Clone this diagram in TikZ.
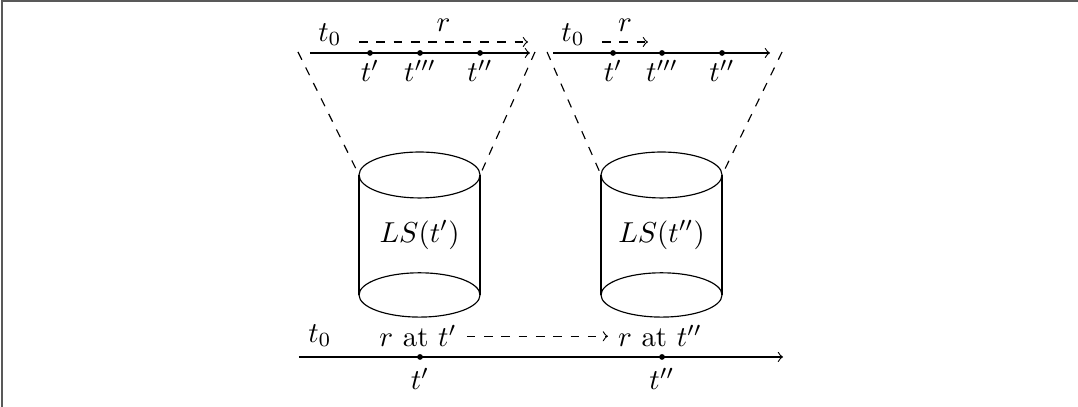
\documentclass[tikz,border=0pt]{standalone}
\usetikzlibrary{positioning}
\begin{document}
\begin{tikzpicture}[
    tick/.style={circle, fill, inner sep=0pt, minimum size=2pt},
    funnel/.style={dashed},
    frame/.style={gray!70!black, line width=0.7pt},
    lbl/.style={anchor=base}
]
\useasboundingbox (0,0) rectangle (13.146,4.963);

% Frame
\coordinate (f1) at (0.024,0);
\coordinate (f2) at (0.024,4.951);
\coordinate (f3) at (13.146,4.951);
\draw[frame] (f1) -- (f2) -- (f3);

% Top left timeline
\coordinate (a0) at (3.780,4.317);
\coordinate (a1) at (6.463,4.317);
\draw[->] (a0) -- (a1);
\node[tick] (a2) at (4.512,4.317) {};
\node[tick] (a3) at (5.122,4.317) {};
\node[tick] (a4) at (5.854,4.317) {};
\node[lbl] (la2) at (4.512,3.967) {$t'$};
\node[lbl] (la3) at (5.122,3.967) {$t'''$};
\node[lbl] (la4) at (5.854,3.967) {$t''$};
\node[lbl] (la0) at (4.024,4.455) {$t_0$};
\coordinate (ra0) at (4.378,4.451);
\coordinate (ra1) at (6.439,4.451);
\draw[dashed,->] (ra0) -- node[midway,above] {$r$} (ra1);

% Top right timeline
\coordinate (b0) at (6.744,4.317);
\coordinate (b1) at (9.390,4.317);
\draw[->] (b0) -- (b1);
\node[tick] (b2) at (7.476,4.317) {};
\node[tick] (b3) at (8.073,4.317) {};
\node[tick] (b4) at (8.805,4.317) {};
\node[lbl] (lb2) at (7.476,3.967) {$t'$};
\node[lbl] (lb3) at (8.073,3.967) {$t'''$};
\node[lbl] (lb4) at (8.805,3.967) {$t''$};
\node[lbl] (lb0) at (6.988,4.455) {$t_0$};
\coordinate (rb0) at (7.341,4.451);
\coordinate (rb1) at (7.902,4.451);
\draw[dashed,->] (rb0) -- node[midway,above] {$r$} (rb1);

% Left cylinder
\coordinate (c1t) at (5.116,2.829);
\coordinate (c1b) at (5.116,1.366);
\coordinate (c1nw) at (4.378,2.829);
\coordinate (c1ne) at (5.854,2.829);
\coordinate (c1sw) at (4.378,1.366);
\coordinate (c1se) at (5.854,1.366);
\draw (c1t) ellipse [x radius=0.738, y radius=0.28];
\draw (c1b) ellipse [x radius=0.738, y radius=0.27];
\draw (c1nw) -- (c1sw);
\draw (c1ne) -- (c1se);
\node (ls1) at (5.116,2.098) {$LS(t')$};

% Right cylinder
\coordinate (c2t) at (8.067,2.829);
\coordinate (c2b) at (8.067,1.366);
\coordinate (c2nw) at (7.329,2.829);
\coordinate (c2ne) at (8.805,2.829);
\coordinate (c2sw) at (7.329,1.366);
\coordinate (c2se) at (8.805,1.366);
\draw (c2t) ellipse [x radius=0.738, y radius=0.28];
\draw (c2b) ellipse [x radius=0.738, y radius=0.27];
\draw (c2nw) -- (c2sw);
\draw (c2ne) -- (c2se);
\node (ls2) at (8.067,2.098) {$LS(t'')$};

% Funnels
\coordinate (fa0) at (3.634,4.329);
\coordinate (fa1) at (6.524,4.329);
\coordinate (fb0) at (6.671,4.329);
\coordinate (fb1) at (9.537,4.329);
\draw[funnel] (fa0) -- (c1nw);
\draw[funnel] (fa1) -- (c1ne);
\draw[funnel] (fb0) -- (c2nw);
\draw[funnel] (fb1) -- (c2ne);

% Bottom timeline
\coordinate (d0) at (3.646,0.610);
\coordinate (d1) at (9.549,0.610);
\draw[->] (d0) -- (d1);
\node[tick] (d2) at (5.122,0.610) {};
\node[tick] (d3) at (8.073,0.610) {};
\node[lbl] (ld2) at (5.122,0.207) {$t'$};
\node[lbl] (ld3) at (8.073,0.207) {$t''$};
\node[lbl] (ld0) at (3.902,0.790) {$t_0$};
\node[lbl] (rat1) at (5.098,0.732) {$r$ at $t'$};
\node[lbl] (rat2) at (8.049,0.732) {$r$ at $t''$};
\draw[dashed,->] (rat1.east) -- (rat2.west);

\end{tikzpicture}
\end{document}
